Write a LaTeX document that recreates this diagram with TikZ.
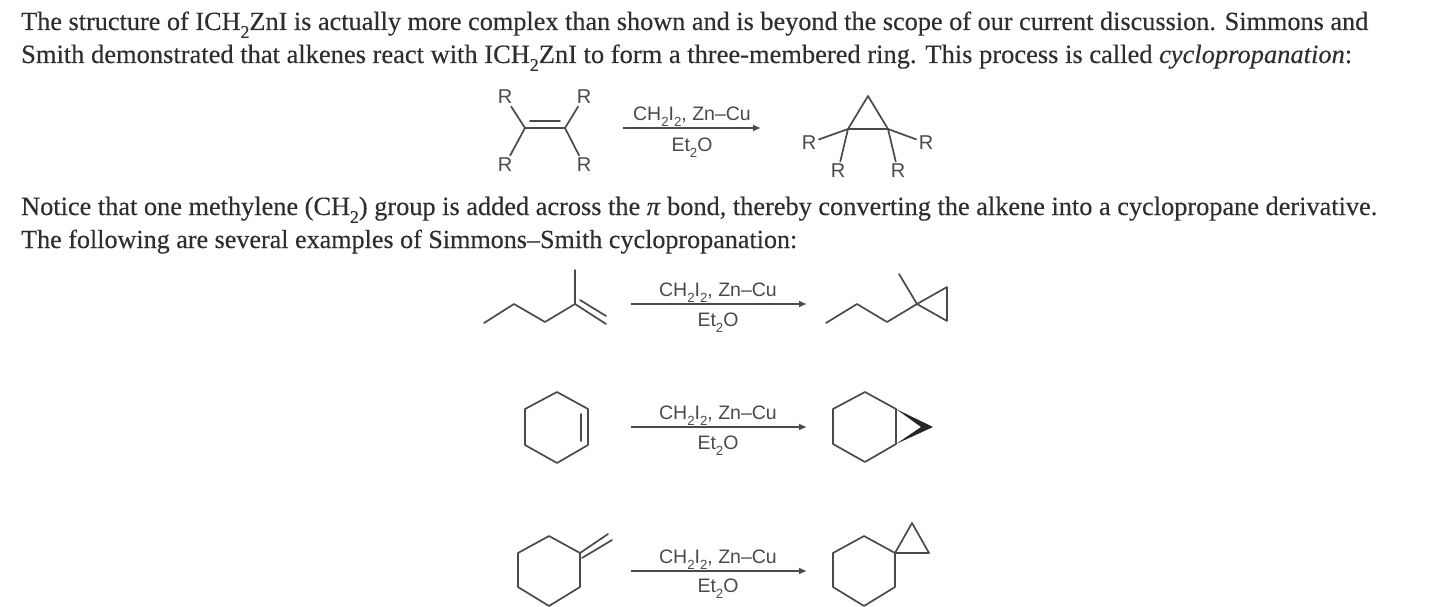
\documentclass[tikz,border=0pt]{standalone}
\usepackage{fontspec}
\setmainfont[FakeBold=0.25]{Liberation Serif}
\newfontfamily\labelfont{Liberation Sans}
\usetikzlibrary{arrows.meta}
\definecolor{ink}{HTML}{2E2E2E}
\definecolor{bondc}{HTML}{4A4A4A}
\newcommand{\lowsub}[1]{\raisebox{-0.3em}{\scalebox{0.68}{#1}}}
\newcommand{\chemreag}{CH\lowsub{2}I\lowsub{2}, Zn–Cu}
\newcommand{\chemsol}{Et\lowsub{2}O}
\tikzset{
 x=1pt,y=-1pt,
 bodytext/.style={anchor=base west,inner sep=0pt,text=ink,font=\fontsize{26}{30}\selectfont},
 rlabel/.style={inner sep=2.5pt,yshift=-1pt,text=bondc,font=\labelfont\fontsize{20}{22}\selectfont},
 reag/.style={inner sep=0pt,yshift=-2pt,text=bondc,font=\labelfont\fontsize{19.5}{22}\selectfont},
 bond/.style={draw=bondc,line width=1.7pt,line cap=round,line join=round},
 rxn/.style={draw=bondc,line width=1.7pt,-{Latex[length=8pt,width=7pt]}},
}
\begin{document}
\begin{tikzpicture}
\useasboundingbox (0,0) rectangle (1440,607);
\fill[white] (0,0) rectangle (1440,607);
% text
\node[bodytext] (l1) at (21,30) {\resizebox{1347pt}{!}{The structure of ICH\lowsub{2}ZnI is actually more complex than shown and is beyond the scope of our current discussion. Simmons and}};
\node[bodytext] (l2) at (21,63) {\resizebox{1331pt}{!}{Smith demonstrated that alkenes react with ICH\lowsub{2}ZnI to form a three-membered ring. This process is called \textit{cyclopropanation}:}};
\node[bodytext] (l3) at (21,215) {\resizebox{1356pt}{!}{Notice that one methylene (CH\lowsub{2}) group is added across the \textit{π} bond, thereby converting the alkene into a cyclopropane derivative.}};
\node[bodytext] (l4) at (21,248) {\resizebox{776pt}{!}{The following are several examples of Simmons–Smith cyclopropanation:}};
% reaction 1 reactant
\coordinate (a1) at (525,128); \coordinate (a2) at (565,128);
\coordinate (a1i) at (530,121); \coordinate (a2i) at (560,121);
\node[rlabel] (rtl) at (505,96) {R};
\node[rlabel] (rtr) at (584,96) {R};
\node[rlabel] (rbl) at (505,164) {R};
\node[rlabel] (rbr) at (584,164) {R};
\draw[bond] (a1)--(a2) (a1i)--(a2i);
\draw[bond] (rtl)--(a1) (rbl)--(a1) (rtr)--(a2) (rbr)--(a2);
% arrow 1
\coordinate (s1) at (623,128); \coordinate (e1) at (761,128);
\draw[rxn] (s1)--(e1);
\node[reag] (t1) at (692,115) {\chemreag};
\node[reag] (b1) at (692,146) {\chemsol};
% product 1
\coordinate (c1) at (868,96); \coordinate (c2) at (848,129); \coordinate (c3) at (888,129);
\node[rlabel] (pl) at (809,142) {R};
\node[rlabel] (pr) at (926,142) {R};
\node[rlabel] (pbl) at (838,170) {R};
\node[rlabel] (pbr) at (898,170) {R};
\draw[bond] (c1)--(c2)--(c3)--cycle;
\draw[bond] (pl)--(c2) (pbl)--(c2) (pr)--(c3) (pbr)--(c3);
% reaction 2
\coordinate (d1) at (484,323); \coordinate (d2) at (514,304); \coordinate (d3) at (545,322);
\coordinate (d4) at (575,304); \coordinate (d5) at (575,270); \coordinate (d6) at (606,324);
\coordinate (d4i) at (580,300); \coordinate (d6i) at (606,316);
\draw[bond] (d1)--(d2)--(d3)--(d4)--(d5) (d4)--(d6) (d4i)--(d6i);
\coordinate (s2) at (631,304); \coordinate (e2) at (807,304);
\draw[rxn] (s2)--(e2);
\node[reag] (t2) at (718,291) {\chemreag};
\node[reag] (b2) at (718,321) {\chemsol};
\coordinate (f1) at (826,323); \coordinate (f2) at (857,304); \coordinate (f3) at (887,322);
\coordinate (f4) at (917,304); \coordinate (f5) at (899,274); \coordinate (f6) at (947,287); \coordinate (f7) at (947,321);
\draw[bond] (f1)--(f2)--(f3)--(f4)--(f5) (f4)--(f6)--(f7)--cycle;
% reaction 3
\coordinate (g1) at (557,392); \coordinate (g2) at (588,409); \coordinate (g3) at (588,445);
\coordinate (g4) at (557,463); \coordinate (g5) at (525,445); \coordinate (g6) at (525,409);
\coordinate (g2i) at (581,414); \coordinate (g3i) at (581,441);
\draw[bond] (g1)--(g2)--(g3)--(g4)--(g5)--(g6)--cycle (g2i)--(g3i);
\coordinate (s3) at (631,427); \coordinate (e3) at (807,427);
\draw[rxn] (s3)--(e3);
\node[reag] (t3) at (718,414) {\chemreag};
\node[reag] (b3) at (718,444) {\chemsol};
\coordinate (h1) at (865,392); \coordinate (h2) at (896,409); \coordinate (h3) at (896,444);
\coordinate (h4) at (865,462); \coordinate (h5) at (833,444); \coordinate (h6) at (833,409);
\coordinate (h7) at (933,427); \coordinate (h7i) at (921,427);
\draw[bond] (h1)--(h2)--(h3)--(h4)--(h5)--(h6)--cycle;
\fill[black!85] (h2)--(h7)--(h3)--(h7i)--cycle;
% reaction 4
\coordinate (i1) at (549,536); \coordinate (i2) at (580,553); \coordinate (i3) at (580,587);
\coordinate (i4) at (549,606); \coordinate (i5) at (518,587); \coordinate (i6) at (518,553);
\coordinate (i7) at (608,534); \coordinate (i2i) at (582,558); \coordinate (i7i) at (612,540);
\draw[bond] (i1)--(i2)--(i3)--(i4)--(i5)--(i6)--cycle (i2)--(i7) (i2i)--(i7i);
\coordinate (s4) at (631,571); \coordinate (e4) at (807,571);
\draw[rxn] (s4)--(e4);
\node[reag] (t4) at (718,558) {\chemreag};
\node[reag] (b4) at (718,587) {\chemsol};
\coordinate (j1) at (864,536); \coordinate (j2) at (895,553); \coordinate (j3) at (895,587);
\coordinate (j4) at (864,606); \coordinate (j5) at (833,587); \coordinate (j6) at (833,553);
\coordinate (j7) at (912,523); \coordinate (j8) at (929,553);
\draw[bond] (j1)--(j2)--(j3)--(j4)--(j5)--(j6)--cycle (j2)--(j7)--(j8)--cycle;
\end{tikzpicture}
\end{document}
